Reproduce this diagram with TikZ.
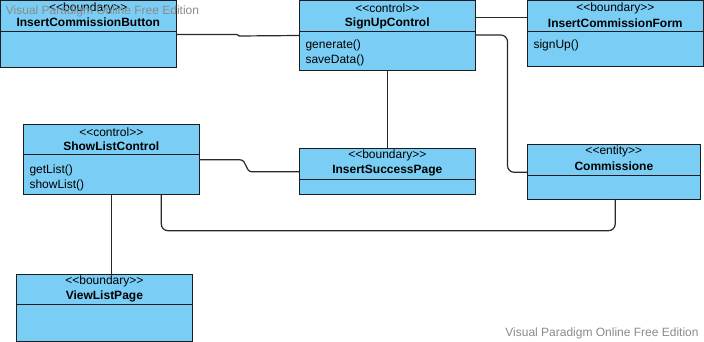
\documentclass[tikz,border=0pt]{standalone}
\usepackage{fontspec}
\setmainfont{Liberation Sans}
\usetikzlibrary{calc}

\definecolor{clsfill}{RGB}{122,206,245}
\definecolor{clsline}{RGB}{28,28,28}
\definecolor{connline}{RGB}{40,40,40}
\definecolor{wmark}{RGB}{138,138,138}

\tikzset{
  clsbox/.style={draw=clsline, fill=clsfill, line width=0.75pt, inner sep=0pt, outer sep=0pt},
  clssep/.style={draw=clsline, line width=0.75pt},
  stereotxt/.style={font=\fontsize{9}{10.5}\selectfont, inner sep=0pt},
  titletxt/.style={font=\fontsize{9}{10.5}\selectfont\bfseries, inner sep=0pt},
  optxt/.style={font=\fontsize{9}{10.5}\selectfont, inner sep=0pt, anchor=west},
  conn/.style={draw=connline, line width=0.9pt},
  wmtxt/.style={font=\fontsize{9}{10.5}\selectfont, text=wmark, inner sep=0pt},
}

% UML class box: name, x, y, width, height, separator offset, stereotype, title
\newcommand\umlcls[8]{%
  \node[clsbox, anchor=north west, minimum width={#4*0.75pt}, minimum height={#5*0.75pt}] (#1) at (#2,#3) {};
  \draw[clssep] ($(#1.north west)+(0,#6)$) -- ($(#1.north east)+(0,#6)$);
  \node[stereotxt] (#1-st) at ($(#1.north)+(0,7.5)$) {{<}{<}#7{>}{>}};
  \node[titletxt] (#1-ti) at ($(#1.north)+(0,22)$) {#8};
}
% operation line inside a class box: box name, node name, y offset from top, text
\newcommand\umlop[4]{%
  \node[optxt] (#2) at ($(#1.north west)+(6,#3)$) {#4};
}

\begin{document}
\begin{tikzpicture}[x=0.75pt, y=-0.75pt]
  \useasboundingbox (0,0) rectangle (704,342);

  % classes
  \umlcls{icb}{0.5}{0.5}{175.5}{67.5}{31}{boundary}{InsertCommissionButton}
  \umlcls{scu}{299.3}{1}{176}{70}{30.7}{control}{SignUpControl}
  \umlop{scu}{scu-op1}{44.7}{generate()}
  \umlop{scu}{scu-op2}{59.7}{saveData()}
  \umlcls{icf}{527.3}{1}{176}{65.7}{30.5}{boundary}{InsertCommissionForm}
  \umlop{icf}{icf-op1}{44.5}{signUp()}
  \umlcls{slc}{23.3}{124.3}{176}{70.7}{30.7}{control}{ShowListControl}
  \umlop{slc}{slc-op1}{45.7}{getList()}
  \umlop{slc}{slc-op2}{61.2}{showList()}
  \umlcls{isp}{299.3}{148.3}{176}{46.7}{31}{boundary}{InsertSuccessPage}
  \umlcls{com}{527.7}{144.3}{172.3}{55}{31.4}{entity}{Commissione}
  \umlcls{vlp}{16}{274.3}{176.7}{66.7}{30.7}{boundary}{ViewListPage}

  % associations
  \draw[conn] ($(icb.north east)+(0,34)$) -- ++(61,0) -- ++(2,1.5) -- ($(scu.north west)+(0,34.5)$);
  \draw[conn] ($(scu.north east)+(0,16.5)$) -- ($(icf.north west)+(0,16.5)$);
  \draw[conn, rounded corners=5pt] ($(scu.north east)+(0,34)$) -- (507.5,35) -- (507.5,172.3) -- ($(com.north west)+(0,28)$);
  \draw[conn] ($(isp.north west)+(88,0)$) coordinate (ispTop) -- (ispTop |- scu.south);
  \draw[conn] ($(slc.north east)+(0,35.5)$) -- (240,159.8) .. controls (247,159.8) and (245,171.8) .. (252,171.8) -- ($(isp.north west)+(0,23.5)$);
  \draw[conn, rounded corners=5pt] ($(slc.south west)+(138,0)$) -- ++(0,35.7) -| ($(com.south west)+(87.5,0)$);
  \draw[conn] ($(vlp.north west)+(95.7,0)$) coordinate (vlpTop) -- (vlpTop |- slc.south);

  % editor watermarks
  \node[wmtxt] (wm1) at (102.5,11.7) {Visual Paradigm Online Free Edition};
  \node[wmtxt] (wm2) at (602,333) {Visual Paradigm Online Free Edition};
\end{tikzpicture}
\end{document}
